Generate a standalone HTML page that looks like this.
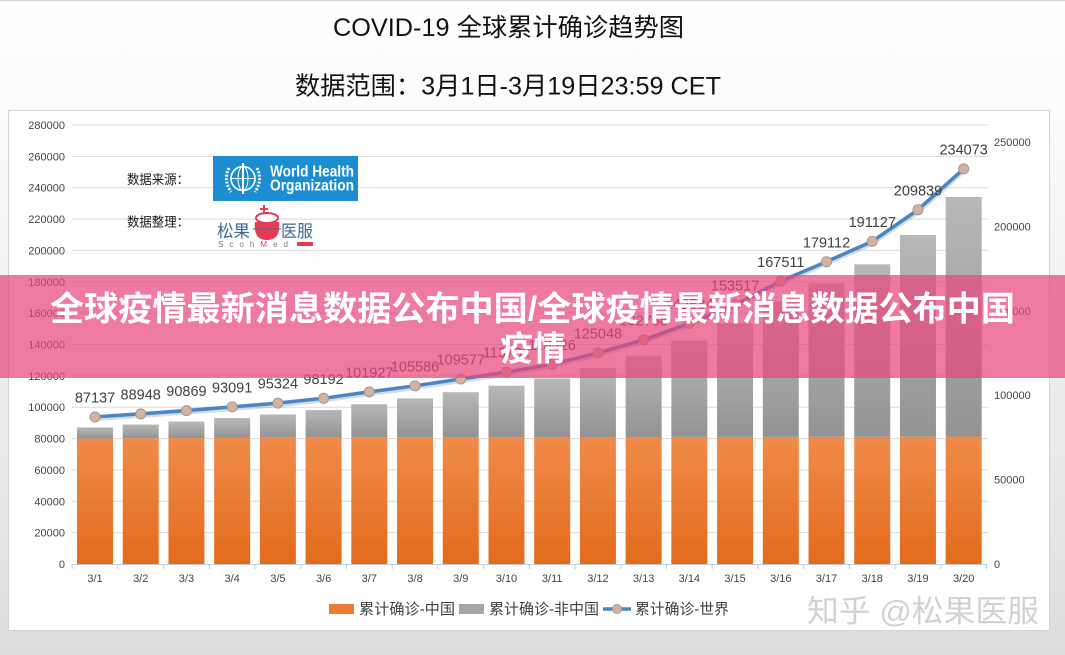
<!DOCTYPE html>
<html><head><meta charset="utf-8">
<style>
html,body{margin:0;padding:0;}
body{width:1065px;height:655px;overflow:hidden;background:linear-gradient(#fefefe 0px,#fbfbfb 110px,#e6e6e6 520px,#dcdcdc 655px);}
svg{display:block;}
text{font-family:"Liberation Sans","Noto Sans CJK SC",sans-serif;}
</style></head>
<body>
<svg width="1065" height="655" viewBox="0 0 1065 655" xmlns="http://www.w3.org/2000/svg">
<defs>
<linearGradient id="og" x1="0" y1="437" x2="0" y2="564" gradientUnits="userSpaceOnUse">
<stop offset="0" stop-color="#f08b4a"/><stop offset="1" stop-color="#e36b1c"/>
</linearGradient>
<linearGradient id="gg" x1="0" y1="0" x2="0" y2="1">
<stop offset="0" stop-color="#b8b8b8"/><stop offset="1" stop-color="#939393"/>
</linearGradient>
</defs>
<line x1="0" y1="0.5" x2="1065" y2="0.5" stroke="#cfcfcf"/>
<!-- titles -->
<text x="333" y="36" font-size="25" fill="#111" textLength="351" lengthAdjust="spacingAndGlyphs">COVID-19 全球累计确诊趋势图</text>
<text x="295" y="94.5" font-size="25" fill="#111" textLength="426" lengthAdjust="spacingAndGlyphs">数据范围：3月1日-3月19日23:59 CET</text>
<!-- chart box -->
<rect x="8.5" y="110.5" width="1041" height="520" fill="#fff" stroke="#d2d2d2"/>
<!-- gridlines -->
<g stroke="#d9d9d9" stroke-width="1">
<line x1="72" y1="532.6" x2="988" y2="532.6"/>
<line x1="72" y1="501.3" x2="988" y2="501.3"/>
<line x1="72" y1="469.9" x2="988" y2="469.9"/>
<line x1="72" y1="438.6" x2="988" y2="438.6"/>
<line x1="72" y1="407.2" x2="988" y2="407.2"/>
<line x1="72" y1="375.9" x2="988" y2="375.9"/>
<line x1="72" y1="344.5" x2="988" y2="344.5"/>
<line x1="72" y1="313.1" x2="988" y2="313.1"/>
<line x1="72" y1="281.8" x2="988" y2="281.8"/>
<line x1="72" y1="250.4" x2="988" y2="250.4"/>
<line x1="72" y1="219.1" x2="988" y2="219.1"/>
<line x1="72" y1="187.7" x2="988" y2="187.7"/>
<line x1="72" y1="156.4" x2="988" y2="156.4"/>
<line x1="72" y1="125.0" x2="988" y2="125.0"/>
</g>
<!-- left axis labels -->
<g font-size="11" fill="#444" text-anchor="end">
<text x="65" y="568">0</text>
<text x="65" y="536.6">20000</text>
<text x="65" y="505.3">40000</text>
<text x="65" y="473.9">60000</text>
<text x="65" y="442.6">80000</text>
<text x="65" y="411.2">100000</text>
<text x="65" y="379.9">120000</text>
<text x="65" y="348.5">140000</text>
<text x="65" y="317.1">160000</text>
<text x="65" y="285.8">180000</text>
<text x="65" y="254.4">200000</text>
<text x="65" y="223.1">220000</text>
<text x="65" y="191.7">240000</text>
<text x="65" y="160.4">260000</text>
<text x="65" y="129.0">280000</text>
</g>
<!-- right axis labels -->
<g font-size="11" fill="#444">
<text x="994" y="568">0</text>
<text x="994" y="483.6">50000</text>
<text x="994" y="399.2">100000</text>
<text x="994" y="314.8">150000</text>
<text x="994" y="230.4">200000</text>
<text x="994" y="146">250000</text>
</g>
<!-- bars -->
<g>
<rect x="77" y="438.6" width="36" height="125.4" fill="url(#og)"/><rect x="77" y="427.4" width="36" height="11.2" fill="url(#gg)"/>
<rect x="122.72" y="438.3" width="36" height="125.7" fill="url(#og)"/><rect x="122.72" y="424.5" width="36" height="13.8" fill="url(#gg)"/>
<rect x="168.44" y="438.1" width="36" height="125.9" fill="url(#og)"/><rect x="168.44" y="421.5" width="36" height="16.6" fill="url(#gg)"/>
<rect x="214.16" y="437.9" width="36" height="126.1" fill="url(#og)"/><rect x="214.16" y="418" width="36" height="19.9" fill="url(#gg)"/>
<rect x="259.88" y="437.7" width="36" height="126.3" fill="url(#og)"/><rect x="259.88" y="414.5" width="36" height="23.2" fill="url(#gg)"/>
<rect x="305.6" y="437.4" width="36" height="126.6" fill="url(#og)"/><rect x="305.6" y="410" width="36" height="27.4" fill="url(#gg)"/>
<rect x="351.32" y="437.3" width="36" height="126.7" fill="url(#og)"/><rect x="351.32" y="404.2" width="36" height="33.1" fill="url(#gg)"/>
<rect x="397.04" y="437.2" width="36" height="126.8" fill="url(#og)"/><rect x="397.04" y="398.4" width="36" height="38.8" fill="url(#gg)"/>
<rect x="442.76" y="437.1" width="36" height="126.9" fill="url(#og)"/><rect x="442.76" y="392.2" width="36" height="44.9" fill="url(#gg)"/>
<rect x="488.48" y="437.1" width="36" height="126.9" fill="url(#og)"/><rect x="488.48" y="385.7" width="36" height="51.4" fill="url(#gg)"/>
<rect x="534.2" y="437.1" width="36" height="126.9" fill="url(#og)"/><rect x="534.2" y="378.5" width="36" height="58.6" fill="url(#gg)"/>
<rect x="579.92" y="437" width="36" height="127" fill="url(#og)"/><rect x="579.92" y="367.9" width="36" height="69.1" fill="url(#gg)"/>
<rect x="625.64" y="437" width="36" height="127" fill="url(#og)"/><rect x="625.64" y="355.8" width="36" height="81.2" fill="url(#gg)"/>
<rect x="671.36" y="436.9" width="36" height="127.1" fill="url(#og)"/><rect x="671.36" y="340.5" width="36" height="96.4" fill="url(#gg)"/>
<rect x="717.08" y="436.9" width="36" height="127.1" fill="url(#og)"/><rect x="717.08" y="323.3" width="36" height="113.6" fill="url(#gg)"/>
<rect x="762.8" y="436.9" width="36" height="127.1" fill="url(#og)"/><rect x="762.8" y="301.3" width="36" height="135.6" fill="url(#gg)"/>
<rect x="808.52" y="436.8" width="36" height="127.2" fill="url(#og)"/><rect x="808.52" y="283.2" width="36" height="153.6" fill="url(#gg)"/>
<rect x="854.24" y="436.8" width="36" height="127.2" fill="url(#og)"/><rect x="854.24" y="264.3" width="36" height="172.5" fill="url(#gg)"/>
<rect x="899.96" y="436.7" width="36" height="127.3" fill="url(#og)"/><rect x="899.96" y="235" width="36" height="201.7" fill="url(#gg)"/>
<rect x="945.68" y="436.5" width="36" height="127.5" fill="url(#og)"/><rect x="945.68" y="197" width="36" height="239.5" fill="url(#gg)"/>
</g>
<!-- x axis -->
<line x1="72" y1="564.5" x2="987" y2="564.5" stroke="#c3ccd6"/>
<g stroke="#c3ccd6">
<line x1="72.1" y1="564" x2="72.1" y2="569"/><line x1="117.9" y1="564" x2="117.9" y2="569"/><line x1="163.6" y1="564" x2="163.6" y2="569"/><line x1="209.3" y1="564" x2="209.3" y2="569"/><line x1="255" y1="564" x2="255" y2="569"/><line x1="300.7" y1="564" x2="300.7" y2="569"/><line x1="346.5" y1="564" x2="346.5" y2="569"/><line x1="392.2" y1="564" x2="392.2" y2="569"/><line x1="437.9" y1="564" x2="437.9" y2="569"/><line x1="483.6" y1="564" x2="483.6" y2="569"/><line x1="529.3" y1="564" x2="529.3" y2="569"/><line x1="575.1" y1="564" x2="575.1" y2="569"/><line x1="620.8" y1="564" x2="620.8" y2="569"/><line x1="666.5" y1="564" x2="666.5" y2="569"/><line x1="712.2" y1="564" x2="712.2" y2="569"/><line x1="757.9" y1="564" x2="757.9" y2="569"/><line x1="803.7" y1="564" x2="803.7" y2="569"/><line x1="849.4" y1="564" x2="849.4" y2="569"/><line x1="895.1" y1="564" x2="895.1" y2="569"/><line x1="940.8" y1="564" x2="940.8" y2="569"/><line x1="986.5" y1="564" x2="986.5" y2="569"/>
</g>
<g font-size="11" fill="#444" text-anchor="middle">
<text x="95" y="582">3/1</text><text x="140.72" y="582">3/2</text><text x="186.44" y="582">3/3</text><text x="232.16" y="582">3/4</text><text x="277.88" y="582">3/5</text><text x="323.6" y="582">3/6</text><text x="369.32" y="582">3/7</text><text x="415.04" y="582">3/8</text><text x="460.76" y="582">3/9</text><text x="506.48" y="582">3/10</text><text x="552.2" y="582">3/11</text><text x="597.92" y="582">3/12</text><text x="643.64" y="582">3/13</text><text x="689.36" y="582">3/14</text><text x="735.08" y="582">3/15</text><text x="780.8" y="582">3/16</text><text x="826.52" y="582">3/17</text><text x="872.24" y="582">3/18</text><text x="917.96" y="582">3/19</text><text x="963.68" y="582">3/20</text>
</g>
<!-- line series -->
<polyline fill="none" stroke="#7f9fc4" stroke-opacity="0.35" stroke-width="6" stroke-linejoin="round" stroke-linecap="round" points="95,418 140.72,415 186.44,411.6 232.16,408 277.88,404.2 323.6,399.4 369.32,393 415.04,387 460.76,380.2 506.48,373.3 552.2,365.5 597.92,354 643.64,341 689.36,324.5 735.08,306 780.8,282.3 826.52,262.8 872.24,242.5 917.96,211 963.68,170"/>
<polyline fill="none" stroke="#4b85c4" stroke-width="3.5" stroke-linejoin="round" stroke-linecap="round" points="95,416.9 140.72,413.9 186.44,410.6 232.16,406.9 277.88,403.1 323.6,398.3 369.32,391.9 415.04,385.8 460.76,379 506.48,372.1 552.2,364.3 597.92,352.9 643.64,339.9 689.36,323.4 735.08,304.9 780.8,281.2 826.52,261.7 872.24,241.4 917.96,209.8 963.68,168.9"/>
<g fill="#d6b29c" stroke="#a09a98" stroke-width="1">
<circle cx="95" cy="416.9" r="5"/><circle cx="140.72" cy="413.9" r="5"/><circle cx="186.44" cy="410.6" r="5"/><circle cx="232.16" cy="406.9" r="5"/><circle cx="277.88" cy="403.1" r="5"/><circle cx="323.6" cy="398.3" r="5"/><circle cx="369.32" cy="391.9" r="5"/><circle cx="415.04" cy="385.8" r="5"/><circle cx="460.76" cy="379" r="5"/><circle cx="506.48" cy="372.1" r="5"/><circle cx="552.2" cy="364.3" r="5"/><circle cx="597.92" cy="352.9" r="5"/><circle cx="643.64" cy="339.9" r="5"/><circle cx="689.36" cy="323.4" r="5"/><circle cx="735.08" cy="304.9" r="5"/><circle cx="780.8" cy="281.2" r="5"/><circle cx="826.52" cy="261.7" r="5"/><circle cx="872.24" cy="241.4" r="5"/><circle cx="917.96" cy="209.8" r="5"/><circle cx="963.68" cy="168.9" r="5"/>
</g>
<g font-size="14.5" fill="#404040" text-anchor="middle">
<text x="95" y="402.5">87137</text><text x="140.72" y="399.5">88948</text><text x="186.44" y="396.2">90869</text><text x="232.16" y="392.5">93091</text><text x="277.88" y="388.7">95324</text><text x="323.6" y="383.9">98192</text><text x="369.32" y="377.5">101927</text><text x="415.04" y="371.4">105586</text><text x="460.76" y="364.6">109577</text><text x="506.48" y="357.7">113702</text><text x="552.2" y="349.9">118326</text><text x="597.92" y="338.5">125048</text><text x="643.64" y="325.5">132758</text><text x="689.36" y="309">142534</text><text x="735.08" y="290.5">153517</text><text x="780.8" y="266.8">167511</text><text x="826.52" y="247.3">179112</text><text x="872.24" y="227">191127</text><text x="917.96" y="195.4">209839</text><text x="963.68" y="154.5">234073</text>
</g>
<!-- source logos -->
<text x="127" y="184" font-size="13" fill="#1a1a1a" textLength="62" lengthAdjust="spacingAndGlyphs">数据来源：</text>
<text x="127" y="226.5" font-size="13" fill="#1a1a1a" textLength="62" lengthAdjust="spacingAndGlyphs">数据整理：</text>
<rect x="213" y="156" width="145" height="45" fill="#1b8dd0"/>
<g stroke="#fff" fill="none">
<circle cx="243" cy="178.5" r="12" stroke-width="1.6"/>
<ellipse cx="243" cy="178.5" rx="5" ry="12" stroke-width="1"/>
<line x1="231" y1="178.5" x2="255" y2="178.5" stroke-width="1"/>
<line x1="243" y1="163" x2="243" y2="194" stroke-width="2"/>
<path d="M229 168 Q223 180 231 192" stroke-width="3" stroke-dasharray="2 1.5"/>
<path d="M257 168 Q263 180 255 192" stroke-width="3" stroke-dasharray="2 1.5"/>
</g>
<text x="270" y="176.5" font-size="16" font-weight="bold" fill="#fff" textLength="84" lengthAdjust="spacingAndGlyphs">World Health</text>
<text x="270" y="190.5" font-size="16" font-weight="bold" fill="#fff" textLength="84" lengthAdjust="spacingAndGlyphs">Organization</text>
<text x="217" y="237" font-size="17" fill="#3b6a97" textLength="33" lengthAdjust="spacingAndGlyphs">松果</text>
<g>
<ellipse cx="267" cy="218" rx="11" ry="5" fill="#fff" stroke="#e33b57" stroke-width="2"/>
<path d="M255 222 L279 222 Q281 240 267 240 Q253 240 255 222 Z" fill="#e53b56"/>
<line x1="264" y1="205" x2="264" y2="213" stroke="#e33b57" stroke-width="2"/>
<line x1="260" y1="209" x2="268" y2="209" stroke="#e33b57" stroke-width="2"/>
<line x1="253" y1="229" x2="281" y2="229" stroke="#3b6a97" stroke-width="1"/>
</g>
<text x="281" y="237" font-size="17" fill="#3b6a97" textLength="32" lengthAdjust="spacingAndGlyphs">医服</text>
<text x="218" y="247" font-size="8" fill="#777" textLength="70" lengthAdjust="spacing">S c o h <tspan fill="#e33b57">M</tspan> e d</text>
<rect x="297" y="242" width="16" height="4" fill="#e33b57"/>
<!-- legend -->
<rect x="329" y="604" width="25" height="10" fill="#ec7a33"/>
<text x="359" y="614" font-size="15" fill="#404040" textLength="96" lengthAdjust="spacingAndGlyphs">累计确诊-中国</text>
<rect x="459" y="604" width="25" height="10" fill="#a6a6a6"/>
<text x="489" y="614" font-size="15" fill="#404040" textLength="110" lengthAdjust="spacingAndGlyphs">累计确诊-非中国</text>
<line x1="603" y1="609" x2="631" y2="609" stroke="#4b85c4" stroke-width="3.5"/>
<circle cx="617" cy="609" r="4.5" fill="#d6b29c" stroke="#a09a98"/>
<text x="635" y="614" font-size="15" fill="#404040" textLength="94" lengthAdjust="spacingAndGlyphs">累计确诊-世界</text>
<!-- watermark -->
<text x="808" y="623" font-size="31" fill="#fff" textLength="232" lengthAdjust="spacingAndGlyphs" opacity="0.9" transform="translate(1,1)">知乎 @松果医服</text>
<text x="807" y="622" font-size="31" fill="#d2d2d2" textLength="232" lengthAdjust="spacingAndGlyphs">知乎 @松果医服</text>
<!-- banner -->
<rect x="0" y="275" width="1065" height="103" fill="#e8467b" fill-opacity="0.72"/>
<text x="50" y="320.5" font-size="34" font-weight="bold" fill="#fff" textLength="965" lengthAdjust="spacingAndGlyphs">全球疫情最新消息数据公布中国/全球疫情最新消息数据公布中国</text>
<text x="500" y="360.5" font-size="34" font-weight="bold" fill="#fff" textLength="66" lengthAdjust="spacingAndGlyphs">疫情</text>
</svg>
</body></html>
